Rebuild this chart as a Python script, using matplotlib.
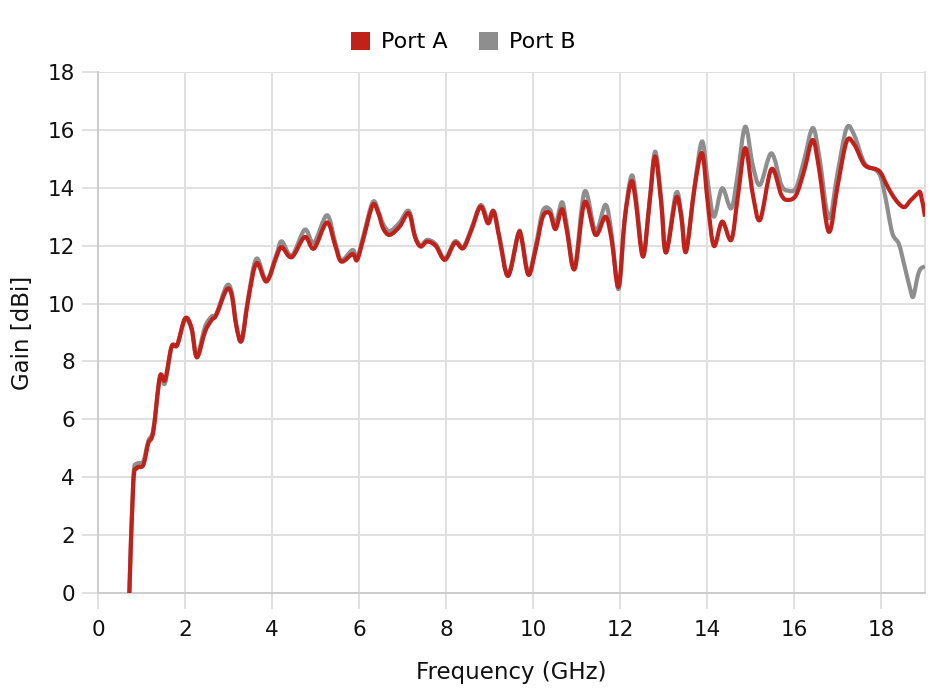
import matplotlib
matplotlib.use('Agg')
import matplotlib.pyplot as plt
from matplotlib.patches import Patch, PathPatch
from matplotlib.path import Path
import numpy as np

plt.rcParams['font.family'] = ['DejaVu Sans']

# frequency points (GHz)
freq = [0.72, 0.81, 0.89, 1.04, 1.155, 1.27, 1.42, 1.54, 1.69, 1.82,
        2.0, 2.15, 2.27, 2.46, 2.61, 2.72, 2.95, 3.07, 3.18, 3.30,
        3.45, 3.64, 3.87, 4.10, 4.22, 4.45, 4.75, 4.96, 5.26, 5.45,
        5.59, 5.85, 5.95, 6.09, 6.31, 6.44, 6.55, 6.70, 6.93, 7.14,
        7.28, 7.41, 7.56, 7.76, 7.97, 8.20, 8.39, 8.58, 8.79, 8.96,
        9.09, 9.23, 9.42, 9.65, 9.73, 9.89, 10.07, 10.22, 10.38, 10.51,
        10.66, 10.77, 10.95, 11.18, 11.43, 11.66, 11.80, 11.96, 12.10, 12.25,
        12.35, 12.52, 12.67, 12.80, 12.94, 13.05, 13.28, 13.40, 13.51, 13.71,
        13.88, 14.01, 14.15, 14.34, 14.55, 14.70, 14.87, 15.04, 15.21, 15.47,
        15.70, 15.85, 16.04, 16.23, 16.42, 16.57, 16.79, 16.99, 17.20, 17.38,
        17.61, 17.88, 17.99, 18.10, 18.25, 18.40, 18.53, 18.66, 18.73, 18.83,
        18.90, 19.0]

port_a = [0.0, 3.79, 4.31, 4.42, 5.17, 5.57, 7.47, 7.36, 8.51, 8.57,
          9.49, 9.15, 8.14, 9.03, 9.43, 9.61, 10.47, 10.30, 9.20, 8.72,
          10.12, 11.39, 10.76, 11.62, 11.95, 11.6, 12.3, 11.9, 12.8, 12.0,
          11.45, 11.71, 11.5, 12.2, 13.4, 13.12, 12.6, 12.37, 12.66, 13.12,
          12.31, 11.97, 12.14, 11.99, 11.51, 12.1, 11.91, 12.54, 13.35, 12.77,
          13.18, 12.2, 10.95, 12.37, 12.26, 10.99, 11.97, 13.0, 13.12, 12.57,
          13.26, 12.54, 11.19, 13.5, 12.37, 13.0, 12.2, 10.58, 12.89, 14.21,
          13.58, 11.62, 13.46, 15.08, 13.46, 11.76, 13.64, 13.0, 11.79, 14.04,
          15.19, 13.46, 11.99, 12.83, 12.2, 13.69, 15.37, 13.81, 12.89, 14.64,
          13.75, 13.58, 13.75, 14.62, 15.65, 14.62, 12.48, 14.04, 15.6, 15.48,
          14.79, 14.64, 14.5, 14.16, 13.75, 13.45, 13.33, 13.55, 13.65, 13.8,
          13.8, 13.0]

port_b = [0.0, 3.95, 4.45, 4.55, 5.25, 5.65, 7.4, 7.25, 8.5, 8.57,
          9.45, 9.1, 8.2, 9.2, 9.55, 9.65, 10.6, 10.4, 9.25, 8.72,
          10.2, 11.55, 10.8, 11.7, 12.15, 11.65, 12.55, 12.1, 13.05, 12.1,
          11.5, 11.85, 11.55, 12.3, 13.5, 13.2, 12.75, 12.5, 12.8, 13.2,
          12.35, 12.0, 12.2, 12.05, 11.55, 12.15, 11.95, 12.6, 13.4, 12.9,
          13.2, 12.25, 11.0, 12.4, 12.3, 11.05, 12.1, 13.2, 13.25, 12.75,
          13.5, 12.7, 11.25, 13.87, 12.5, 13.41, 12.4, 10.5, 12.9, 14.39,
          13.8, 11.7, 13.5, 15.25, 13.6, 11.8, 13.81, 13.1, 11.85, 14.1,
          15.6, 14.2, 13.0, 13.98, 13.29, 14.5, 16.11, 14.8, 14.1, 15.19,
          14.1, 13.9, 14.0, 15.0, 16.06, 15.1, 12.95, 14.5, 16.06, 15.8,
          14.85, 14.6, 14.33, 13.6, 12.43, 12.06, 11.3, 10.5, 10.24, 10.93,
          11.2, 11.28]

red = '#c0211b'
gray = '#8e8e8e'
grid_c = '#e0e0e0'


def smooth_line(ax, x, y, color, lw, z):
    # draw the line through the points as a curved path (chart "tension" style)
    x = np.asarray(x, float)
    y = np.asarray(y, float)
    pts = np.column_stack([x, y])
    verts = [pts[0]]
    codes = [Path.MOVETO]
    n = len(pts)
    for i in range(n - 1):
        p0 = pts[max(i - 1, 0)]
        p1 = pts[i]
        p2 = pts[i + 1]
        p3 = pts[min(i + 2, n - 1)]
        c1 = p1 + (p2 - p0) / 6.0
        c2 = p2 - (p3 - p1) / 6.0
        verts += [c1, c2, p2]
        codes += [Path.CURVE4] * 3
    patch = PathPatch(Path(verts, codes), facecolor='none', edgecolor=color, lw=lw,
                      joinstyle='round', capstyle='butt', zorder=z, transform=ax.transData)
    ax.add_patch(patch)


fig = plt.figure(figsize=(9.3, 6.96), dpi=100)
ax = fig.add_axes([0.1054, 0.148, 0.8892, 0.7486])

smooth_line(ax, freq, port_b, gray, 3.0, 3)
smooth_line(ax, freq, port_a, red, 3.0, 4)

ax.set_xlim(0, 19)
ax.set_ylim(0, 18)
ax.set_xticks(np.arange(0, 19, 2))
ax.set_yticks(np.arange(0, 19, 2))
ax.grid(True, color=grid_c, lw=1.4, zorder=0)
ax.set_axisbelow(True)

ax.spines['top'].set_visible(False)
ax.spines['right'].set_color(grid_c)
ax.spines['right'].set_linewidth(1.4)
ax.spines['left'].set_color('#cccccc')
ax.spines['bottom'].set_color('#cccccc')
ax.spines['left'].set_linewidth(1.4)
ax.spines['bottom'].set_linewidth(1.4)

ax.tick_params(axis='both', colors=grid_c, length=11.5, width=1.4, labelsize=15.5, labelcolor='#111111')
ax.tick_params(axis='y', pad=5)
ax.tick_params(axis='x', pad=8)

ax.set_xlabel('Frequency (GHz)', fontsize=16.5, color='#111111', labelpad=15)
ax.set_ylabel('Gain [dBi]', fontsize=16.5, color='#111111', labelpad=10)

handles = [Patch(facecolor=red, edgecolor='none', label='Port A'),
           Patch(facecolor=gray, edgecolor='none', label='Port B')]
fig.legend(handles=handles, loc='center', bbox_to_anchor=(0.498, 0.9395), ncol=2, frameon=False,
           fontsize=16, handlelength=0.85, handleheight=0.85, handletextpad=0.5, columnspacing=1.4)

plt.savefig('out.png', dpi=100)
